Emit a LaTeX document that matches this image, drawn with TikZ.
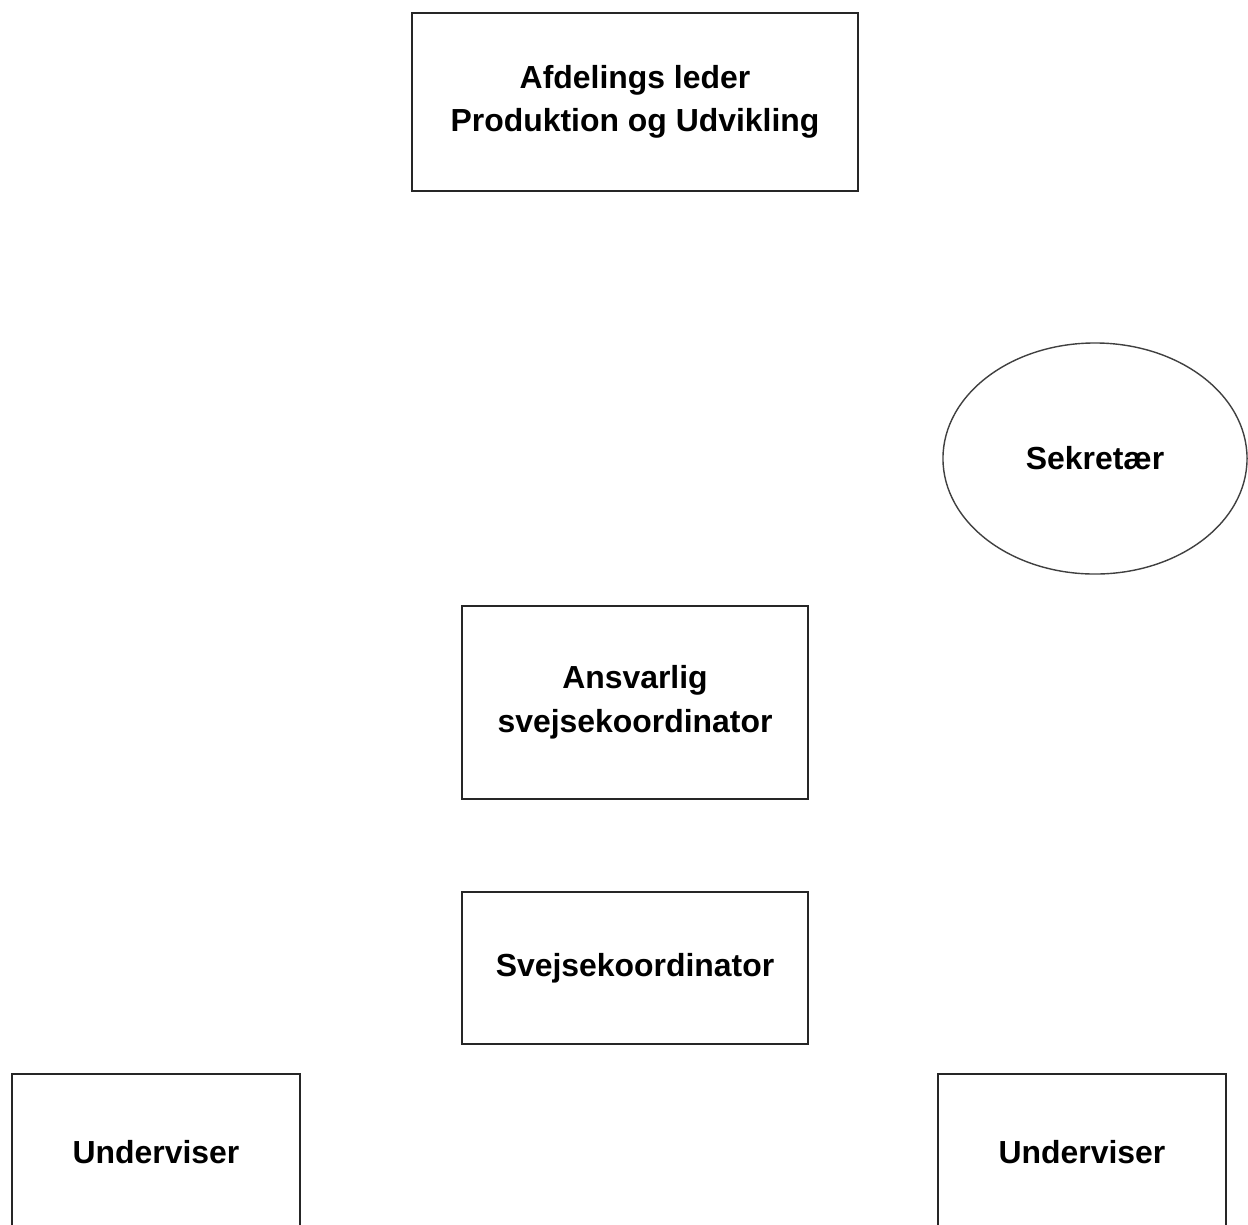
\documentclass[tikz,border=0pt]{standalone}
\usepackage{fontspec}
\setmainfont{Liberation Sans}
\usetikzlibrary{shapes.geometric}
\tikzset{%
  every node/.style={font=\bfseries\fontsize{22.7}{31}\selectfont,align=center},%
  post/.style={draw=black!85,line width=1pt,rectangle,inner sep=0pt},%
  round post/.style={draw=black!75,line width=1pt,ellipse,inner sep=0pt}%
}

\begin{document}
\begin{tikzpicture}[x=0.025cm,y=-0.025cm]

%% frame of the picture (1248 x 1224 px)

\useasboundingbox (0,0) rectangle (1248,1224);

%% boxes of the organisation

\node[post,minimum width=11.15cm,minimum height=4.45cm] (leder) at (635,102)
    {Afdelings leder\\Produktion og Udvikling};
\node[round post,minimum width=7.6cm,minimum height=5.775cm] (sekr) at (1095,458.5)
    {Sekret\ae r};
\node[post,minimum width=8.65cm,minimum height=4.825cm] (ansv) at (635,702.5)
    {Ansvarlig\\svejsekoordinator};
\node[post,minimum width=8.65cm,minimum height=3.8cm] (koord) at (635,968)
    {Svejsekoordinator};
%\node for the teachers runs off the bottom edge
\node[post,minimum width=7.2cm,minimum height=3.9cm] (undvL) at (156,1152)
    {Underviser};
\node[post,minimum width=7.2cm,minimum height=3.9cm] (undvR) at (1082,1152)
    {Underviser};
\end{tikzpicture}
\end{document}
